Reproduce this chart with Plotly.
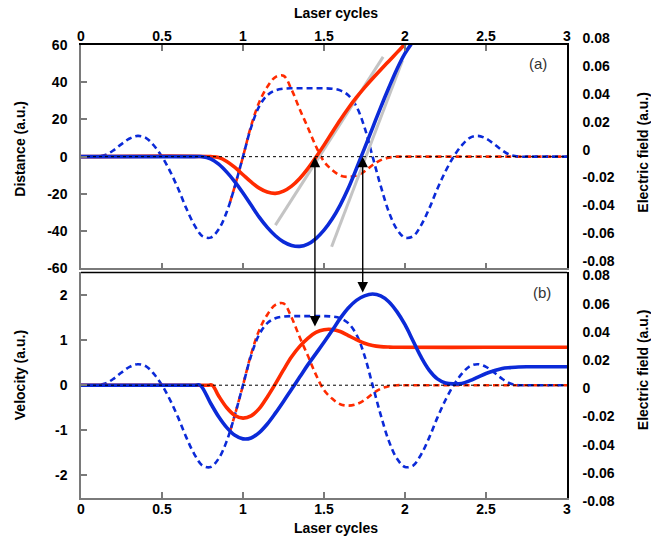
import plotly.graph_objects as go

# ---------------- data (time in laser cycles, atomic units) ----------------
cyc_ticks = [0, 0.5, 1, 1.5, 2, 2.5, 3]
cyc_labels = ["0", "0.5", "1", "1.5", "2", "2.5", "3"]
dist_ticks = [-60, -40, -20, 0, 20, 40, 60]
dist_labels = ["-60", "-40", "-20", "0", "20", "40", "60"]
vel_ticks = [-2, -1, 0, 1, 2]
vel_labels = ["-2", "-1", "0", "1", "2"]
field_ticks = [-0.08, -0.06, -0.04, -0.02, 0, 0.02, 0.04, 0.06, 0.08]
field_labels = ["-0.08", "-0.06", "-0.04", "-0.02", "0", "0.02", "0.04", "0.06", "0.08"]

# electric field, blue pulse
t_field_blue = [0.00, 0.05, 0.10, 0.15, 0.20, 0.25, 0.30, 0.35, 0.40, 0.45,
                0.50, 0.55, 0.60, 0.65, 0.70, 0.75, 0.80, 0.85, 0.90, 0.95,
                1.00, 1.05, 1.10, 1.15, 1.20, 1.25, 1.30, 1.35, 1.40, 1.45,
                1.50, 1.55, 1.60, 1.65, 1.70, 1.75, 1.80, 1.85, 1.90, 1.95,
                2.00, 2.05, 2.10, 2.15, 2.20, 2.25, 2.30, 2.35, 2.40, 2.45,
                2.50, 2.55, 2.60, 2.65, 2.70, 2.75, 2.80, 2.90, 3.00]
field_blue = [0, 0, 0, 0.0012, 0.0045, 0.0090, 0.0130, 0.0149, 0.0135, 0.0080,
              0.0, -0.0105, -0.0230, -0.0370, -0.0490, -0.0570, -0.0580, -0.0520, -0.0395, -0.0210,
              0.0, 0.0210, 0.0360, 0.0440, 0.0475, 0.0487, 0.0490, 0.0490, 0.0490, 0.0490,
              0.0490, 0.0487, 0.0475, 0.0440, 0.0360, 0.0210, 0.0, -0.0210, -0.0395, -0.0520,
              -0.0580, -0.0570, -0.0490, -0.0370, -0.0230, -0.0105, 0.0, 0.0080, 0.0135, 0.0149,
              0.0130, 0.0090, 0.0045, 0.0012, 0, 0, 0, 0, 0]

# electric field, red pulse
t_field_red = [0.92, 0.95, 1.00, 1.05, 1.10, 1.15, 1.20, 1.25, 1.30, 1.35,
               1.40, 1.45, 1.50, 1.55, 1.60, 1.65, 1.70, 1.75, 1.80, 1.85,
               1.90, 1.95, 2.00, 2.50, 3.00]
field_red = [-0.0325, -0.0210, 0.0, 0.0220, 0.0390, 0.0500, 0.0570, 0.0580, 0.0480, 0.0340,
             0.0210, 0.0075, -0.0035, -0.0095, -0.0135, -0.0145, -0.0135, -0.0105, -0.0060, -0.0025,
             -0.0007, 0.0, 0.0, 0.0, 0.0]

# electron excursion
t_dist_blue = [0.00, 0.70, 0.75, 0.80, 0.85, 0.90, 0.95, 1.00, 1.05, 1.10,
               1.15, 1.20, 1.25, 1.30, 1.35, 1.40, 1.45, 1.50, 1.55, 1.60,
               1.65, 1.70, 1.75, 1.80, 1.85, 1.90, 1.95, 2.00, 2.05, 2.08]
dist_blue = [0, 0, 0, -1.2, -4.0, -8.3, -13.5, -19.5, -26.0, -32.5,
             -38.0, -42.5, -45.8, -47.7, -48.2, -47.0, -44.0, -39.5, -33.5, -26.0,
             -17.0, -6.5, 4.5, 15.5, 26.5, 37.0, 47.0, 55.5, 62.0, 66.0]

t_dist_red = [0.00, 0.80, 0.85, 0.90, 0.95, 1.00, 1.05, 1.10, 1.15, 1.20,
              1.25, 1.30, 1.35, 1.40, 1.45, 1.50, 1.55, 1.60, 1.65, 1.70,
              1.75, 1.80, 1.85, 1.90, 1.95, 2.00, 2.03]
dist_red = [0, 0, -0.5, -2.6, -5.8, -9.7, -13.6, -16.9, -19.0, -19.7,
            -18.5, -15.8, -11.7, -6.4, -0.3, 6.2, 13.0, 19.7, 26.0, 31.8,
            37.1, 42.0, 46.7, 51.3, 55.9, 60.5, 63.2]

# tangents at the zero crossings
t_tan_red = [1.20, 1.865]
tan_red = [-36.8, 53.6]
t_tan_blue = [1.547, 1.985]
tan_blue = [-48.4, 51.8]

# electron velocity
t_vel_blue = [0.00, 0.70, 0.735, 0.80, 0.85, 0.90, 0.95, 1.00, 1.05, 1.10,
              1.15, 1.20, 1.25, 1.30, 1.35, 1.40, 1.45, 1.50, 1.55, 1.60,
              1.65, 1.70, 1.75, 1.80, 1.85, 1.90, 1.95, 2.00, 2.05, 2.10,
              2.15, 2.20, 2.25, 2.30, 2.35, 2.40, 2.45, 2.50, 2.55, 2.60,
              2.65, 2.70, 2.75, 2.85, 3.00]
vel_blue = [0, 0, 0, -0.40, -0.70, -0.94, -1.11, -1.19, -1.17, -1.05,
            -0.86, -0.62, -0.36, -0.09, 0.18, 0.45, 0.70, 0.95, 1.21, 1.48,
            1.71, 1.88, 1.98, 2.02, 1.98, 1.85, 1.63, 1.34, 0.98, 0.62,
            0.33, 0.14, 0.05, 0.03, 0.04, 0.10, 0.18, 0.26, 0.32, 0.37,
            0.39, 0.405, 0.41, 0.41, 0.41]

t_vel_red = [0.00, 0.78, 0.81, 0.85, 0.90, 0.95, 1.00, 1.05, 1.10, 1.15,
             1.20, 1.25, 1.30, 1.35, 1.40, 1.45, 1.50, 1.55, 1.60, 1.65,
             1.70, 1.75, 1.80, 1.85, 1.90, 1.95, 2.50, 3.00]
vel_red = [0, 0, 0, -0.24, -0.50, -0.67, -0.73, -0.68, -0.52, -0.26,
           0.03, 0.34, 0.63, 0.86, 1.04, 1.17, 1.23, 1.235, 1.19, 1.10,
           1.01, 0.93, 0.88, 0.855, 0.845, 0.84, 0.84, 0.84]

# arrows linking the zero crossing of the excursion to the velocity maximum
arrow_t = [1.444, 1.739]
arrow_v = [1.27, 2.02]

# ---------------- styling ----------------
FONT = "Liberation Sans, Arial, sans-serif"
BLUE = "#0b2ad8"
RED = "#ff2b00"
GRAY_AX = "#7a7a7a"
TAN_GRAY = "#c4c4c4"
tick_font = dict(family=FONT, size=14, color="black")
title_font = dict(family=FONT, size=14, color="black")


def bold(labels):
    return ["<b>%s</b>" % s for s in labels]


dom_top = [0.507, 1.0]
dom_bot = [0.0, 0.498]
cyc_range = [0, 3]
dist_range = [-60, 60]
vel_range = [-2.5, 2.5]
field_range = [-0.08, 0.08]

DASH = "6px,4px"

fig = go.Figure()


def line(x, y, xa, ya, color, width, dash="solid", shape="spline"):
    fig.add_trace(go.Scatter(
        x=x, y=y, xaxis=xa, yaxis=ya, mode="lines",
        line=dict(color=color, width=width, dash=dash, shape=shape),
        hoverinfo="skip", showlegend=False))


# (a) fields on y (right), excursion on y2 (left)
line(t_field_red, field_red, "x", "y", RED, 2.6, DASH)
line(t_field_blue, field_blue, "x", "y", BLUE, 2.6, DASH)
line(t_tan_red, tan_red, "x", "y2", TAN_GRAY, 3, shape="linear")
line(t_tan_blue, tan_blue, "x", "y2", TAN_GRAY, 3, shape="linear")
line(t_dist_red, dist_red, "x", "y2", RED, 3.6)
line(t_dist_blue, dist_blue, "x", "y2", BLUE, 3.6)
line(cyc_range, [0, 0], "x3", "y2", "black", 1, "dot", "linear")

# (b) fields on y3 (right), velocity on y4 (left)
line(t_field_red, field_red, "x2", "y3", RED, 2.6, DASH)
line(t_field_blue, field_blue, "x2", "y3", BLUE, 2.6, DASH)
line(t_vel_red, vel_red, "x2", "y4", RED, 3.6)
line(t_vel_blue, vel_blue, "x2", "y4", BLUE, 3.6)
line(cyc_range, [0, 0], "x2", "y4", "black", 1, "dot", "linear")

common_x = dict(range=cyc_range, tickvals=cyc_ticks, ticktext=bold(cyc_labels),
                ticks="inside", ticklen=6, tickwidth=1.5, tickcolor=GRAY_AX,
                showgrid=False, zeroline=False, showline=True, linewidth=1.5)
left_y = dict(ticks="inside", ticklen=6, tickwidth=1.5, tickcolor=GRAY_AX,
              showgrid=False, zeroline=False, showline=True, linewidth=1.5,
              linecolor=GRAY_AX, tickfont=tick_font, ticklabelstandoff=9)
right_y = dict(side="right", range=field_range, tickvals=field_ticks,
               ticktext=bold(field_labels), ticks="", showgrid=False, zeroline=False,
               showline=True, linewidth=1.5, linecolor="black",
               tickfont=tick_font, ticklabelstandoff=11)

fig.update_layout(
    width=651, height=541,
    margin=dict(l=81, r=84, t=45, b=43),
    paper_bgcolor="white", plot_bgcolor="white",
    font=dict(family=FONT, size=14, color="black"),
    xaxis=dict(domain=[0, 1], anchor="y", showticklabels=False,
               linecolor=GRAY_AX, **common_x),
    xaxis3=dict(overlaying="x", anchor="y", side="top", linecolor="black",
                tickfont=tick_font, ticklabelstandoff=-3, **common_x),
    xaxis2=dict(domain=[0, 1], anchor="y3", linecolor=GRAY_AX,
                tickfont=tick_font, ticklabelstandoff=-3, **common_x),
    yaxis=dict(domain=dom_top, anchor="x", ticklabelshift=-7, **right_y),
    yaxis2=dict(overlaying="y", anchor="x", side="left", range=dist_range,
                tickvals=dist_ticks, ticktext=bold(dist_labels), **left_y),
    yaxis3=dict(domain=dom_bot, anchor="x2", ticklabelshift=3, **right_y),
    yaxis4=dict(overlaying="y3", anchor="x2", side="left", range=vel_range,
                tickvals=vel_ticks, ticktext=bold(vel_labels), **left_y),
    shapes=[dict(type="line", xref="x2 domain", yref="y3 domain",
                 x0=0, x1=1, y0=1, y1=1, layer="above",
                 line=dict(color="black", width=1.5))],
)


def title(text, yref, x, y, xshift, yshift, angle=0):
    fig.add_annotation(text="<b>%s</b>" % text, xref="paper", yref=yref, x=x, y=y,
                       xanchor="center", yanchor="middle", xshift=xshift, yshift=yshift,
                       textangle=angle, showarrow=False, font=title_font)


# axis titles
title("Laser cycles", "paper", 0.5, 1, 12, 32)
title("Laser cycles", "paper", 0.5, 0, 12, -30)
title("Distance (a.u.)", "y domain", 0, 0.5, -61, 8, -90)
title("Velocity (a.u.)", "y3 domain", 0, 0.5, -61, 10, -90)
title("Electric field (a.u.)", "y domain", 1, 0.5, 76, 4, -90)
title("Electric field (a.u.)", "y3 domain", 1, 0.5, 76, 15, -90)

# panel labels
panel_font = dict(family=FONT, size=15, color="#333333")
fig.add_annotation(text="(a)", xref="paper", yref="y domain", x=1, y=1,
                   xanchor="center", yanchor="middle",
                   xshift=-29, yshift=-18, showarrow=False, font=panel_font)
fig.add_annotation(text="(b)", xref="paper", yref="y3 domain", x=1, y=1,
                   xanchor="center", yanchor="middle",
                   xshift=-25, yshift=-20, showarrow=False, font=panel_font)

# double-headed arrows spanning both panels
for t_a, v_a in zip(arrow_t, arrow_v):
    frac = (v_a - vel_range[0]) / (vel_range[1] - vel_range[0])
    tail_paper = dom_bot[0] + frac * (dom_bot[1] - dom_bot[0])
    tail_dist = dist_range[0] + (tail_paper - dom_top[0]) / (dom_top[1] - dom_top[0]) * (
        dist_range[1] - dist_range[0])
    fig.add_annotation(x=t_a, y=0, xref="x", yref="y2",
                       ax=t_a, ay=tail_dist, axref="x", ayref="y2",
                       text="", showarrow=True, arrowside="end+start",
                       arrowhead=2, startarrowhead=2, arrowsize=1.5, startarrowsize=1.5,
                       arrowwidth=1.4, arrowcolor="black", standoff=0, startstandoff=0)

fig.write_html("out.html")
